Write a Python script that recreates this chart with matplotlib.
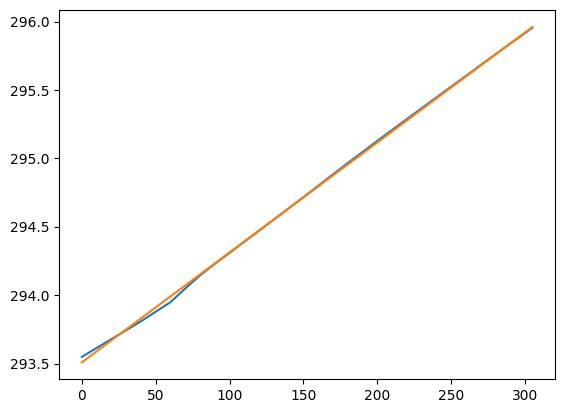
import numpy as np
import matplotlib
matplotlib.use("Agg")
import matplotlib.pyplot as plt

# measured series
t_meas = [0, 20, 40, 60, 70, 80, 90, 100, 125, 150, 175, 200, 225, 250, 275, 305]
temp_meas = [293.55, 293.68, 293.81, 293.95, 294.05, 294.145, 294.23, 294.31,
             294.513, 294.717, 294.925, 295.128, 295.327, 295.524, 295.722, 295.955]

# linear fit endpoints
t_fit = [0, 305]
temp_fit = [293.51, 295.96]

fig, ax = plt.subplots(figsize=(5.65, 4.13), dpi=100)
ax.plot(t_meas, temp_meas)
ax.plot(t_fit, temp_fit)
plt.subplots_adjust(left=0.105, right=0.982, top=0.975, bottom=0.082)
plt.savefig("out.png")
